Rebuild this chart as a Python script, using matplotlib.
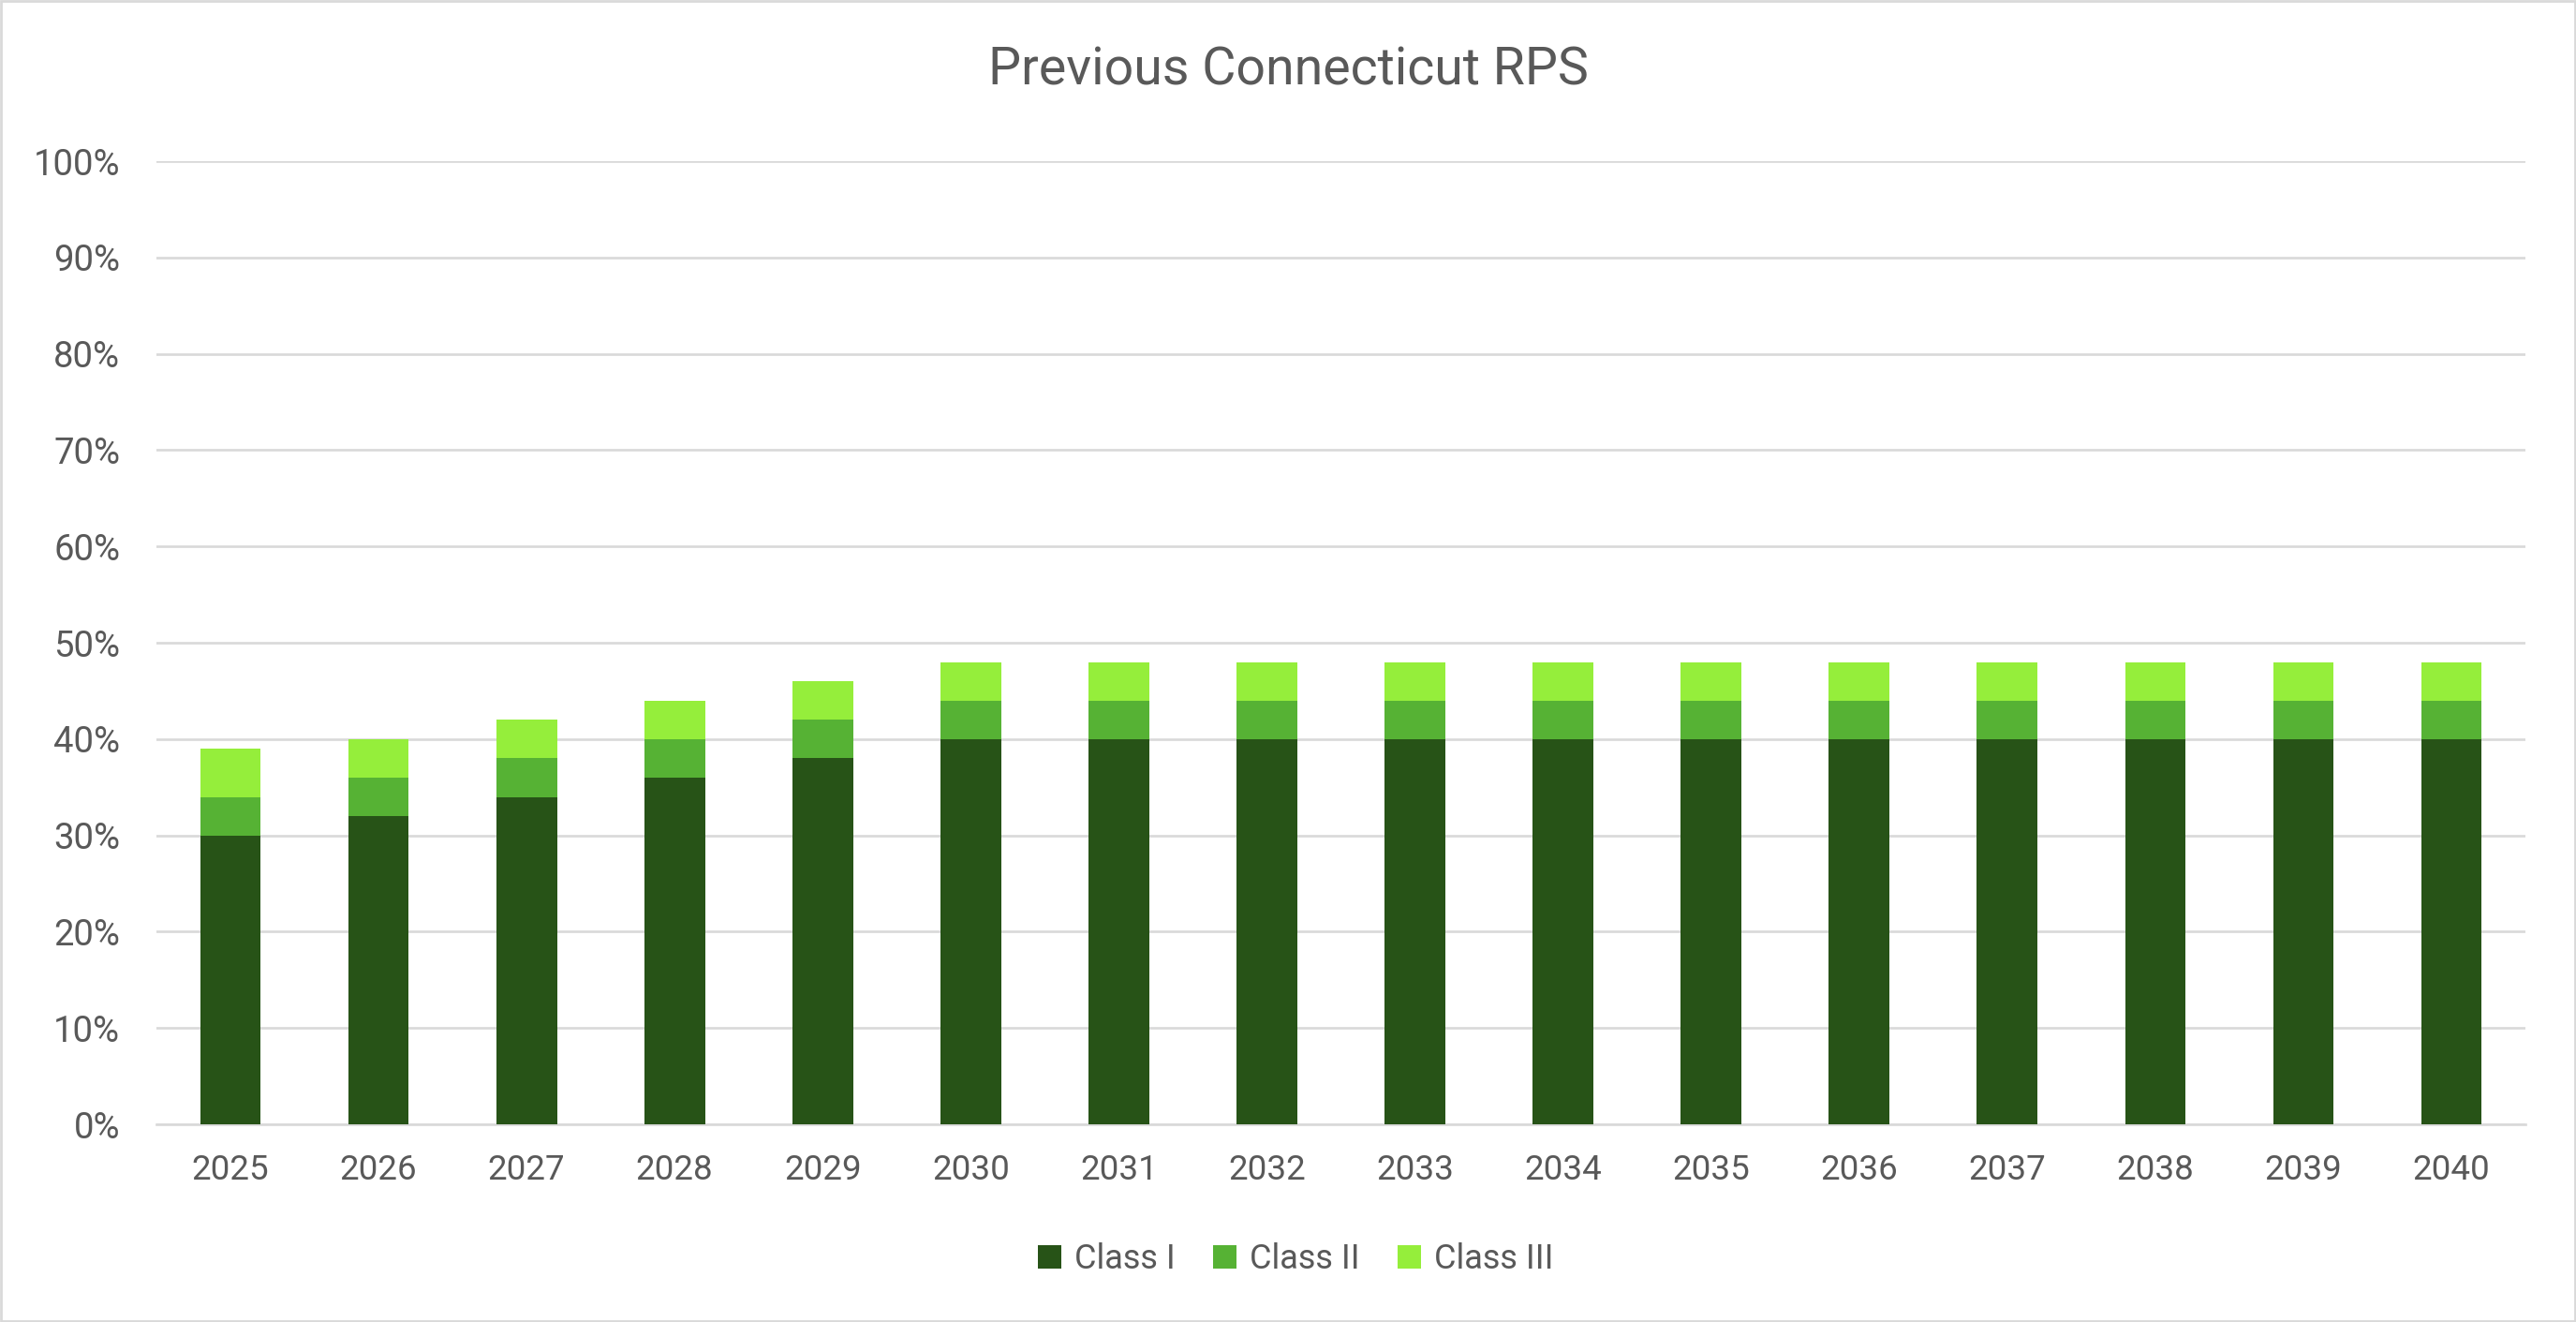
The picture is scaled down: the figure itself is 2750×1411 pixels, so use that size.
import matplotlib
matplotlib.use("Agg")
import matplotlib.pyplot as plt
from matplotlib.patches import Rectangle
from matplotlib.ticker import PercentFormatter
import numpy as np

years = ["2025", "2026", "2027", "2028", "2029", "2030", "2031", "2032",
         "2033", "2034", "2035", "2036", "2037", "2038", "2039", "2040"]
class_i = [30, 32, 34, 36, 38, 40, 40, 40, 40, 40, 40, 40, 40, 40, 40, 40]
class_ii = [4, 4, 4, 4, 4, 4, 4, 4, 4, 4, 4, 4, 4, 4, 4, 4]
class_iii = [5, 4, 4, 4, 4, 4, 4, 4, 4, 4, 4, 4, 4, 4, 4, 4]
series_names = ["Class I", "Class II", "Class III"]
colors = ["#275317", "#56B234", "#95EE3B"]

plt.rcParams['font.family'] = ['Roboto', 'DejaVu Sans']
text_color = "#595959"

fig = plt.figure(figsize=(27.5, 14.11), dpi=100)
fig.patches.append(Rectangle((0.0005, 0.0008), 0.999, 0.9985, transform=fig.transFigure,
                             fill=False, edgecolor="#d9d9d9", linewidth=2.0, zorder=10))
ax = fig.add_axes([0.0607, 0.1495, 0.9197, 0.7286])

x = np.arange(len(years))
w = 0.41
b1 = ax.bar(x, class_i, w, color=colors[0], label=series_names[0], zorder=3)
b2 = ax.bar(x, class_ii, w, bottom=class_i, color=colors[1], label=series_names[1], zorder=3)
bottom3 = np.array(class_i) + np.array(class_ii)
b3 = ax.bar(x, class_iii, w, bottom=bottom3, color=colors[2], label=series_names[2], zorder=3)

ax.set_xlim(-0.5, len(years) - 0.5)
ax.set_ylim(0, 100)
ax.set_yticks(np.arange(0, 101, 10))
ax.yaxis.set_major_formatter(PercentFormatter(decimals=0))
ax.set_xticks(x)
ax.set_xticklabels(years)
ax.grid(axis='y', color="#d9d9d9", linewidth=1.9, zorder=0)
for s in ["top", "right", "left"]:
    ax.spines[s].set_visible(False)
ax.spines["bottom"].set_color("#d9d9d9")
ax.spines["bottom"].set_linewidth(1.9)
ax.tick_params(axis='both', length=0, labelcolor=text_color)
ax.tick_params(axis='y', pad=28, labelsize=27.5)
ax.tick_params(axis='x', pad=22, labelsize=26.5)

fig.text(0.5, 0.947, "Previous Connecticut RPS", ha='center', va='center',
         fontsize=40, color=text_color)

leg = fig.legend(handles=[b1, b2, b3], labels=series_names, loc='center',
                 bbox_to_anchor=(0.503, 0.0475), ncol=3, frameon=False,
                 fontsize=26, handlelength=0.7, handleheight=0.7,
                 handletextpad=0.4, columnspacing=1.1)
for t in leg.get_texts():
    t.set_color(text_color)

fig.savefig("out.png", dpi=100)
